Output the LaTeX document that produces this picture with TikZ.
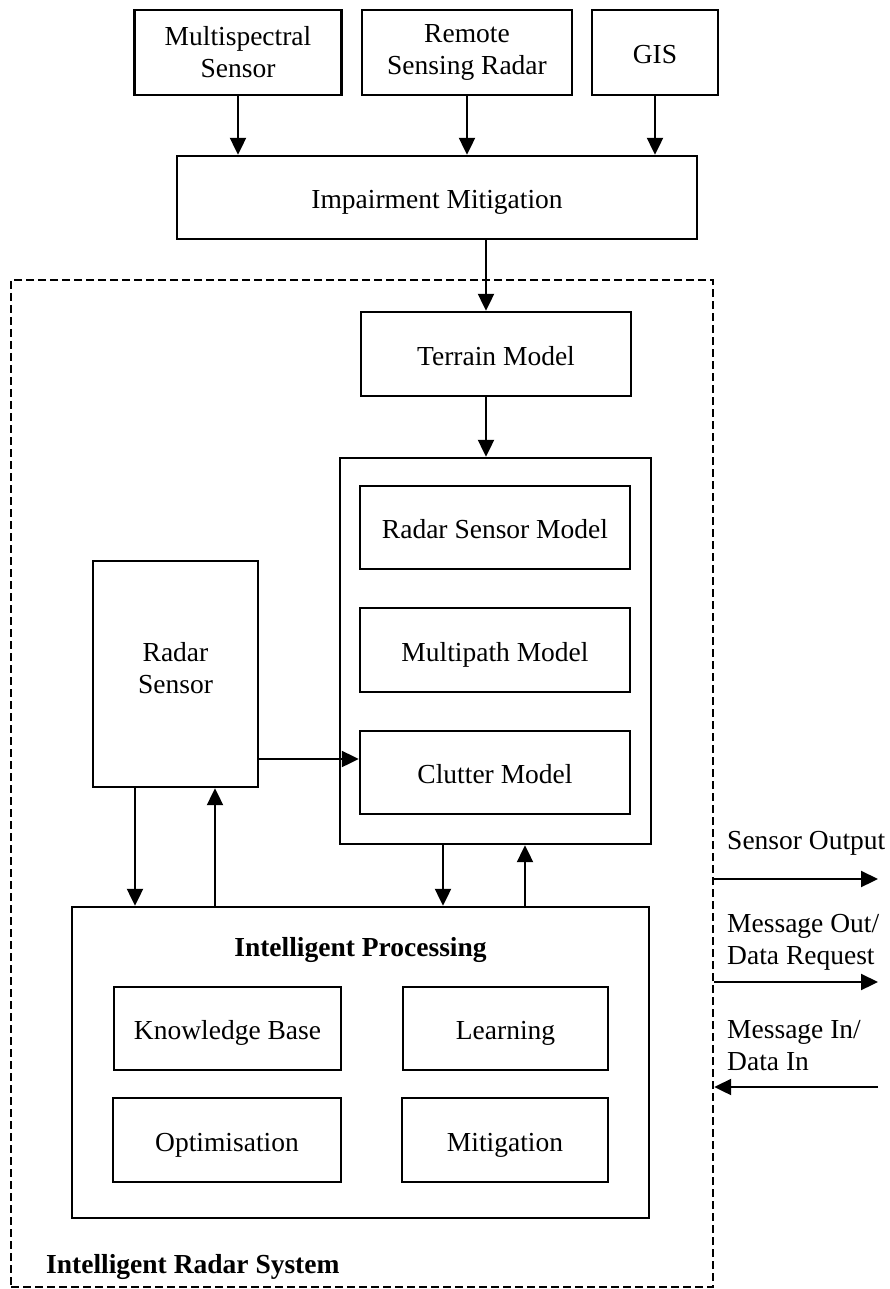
\documentclass[tikz,border=0pt]{standalone}
\usepackage{fontspec}
\setmainfont{Liberation Serif}
\usetikzlibrary{arrows.meta}

\tikzset{
  box/.style={draw, line width=2.4pt, inner sep=0pt, align=center},
  one/.style={text height=24pt, text depth=2pt},
  arr/.style={line width=2.2pt, -{Triangle[length=17pt, width=16pt]}},
  frame/.style={draw, line width=2.4pt, dash pattern=on 8pt off 4pt, inner sep=0pt},
  lbl/.style={inner sep=0pt, align=left, anchor=west},
}

\begin{document}
\begin{tikzpicture}[x=1pt, y=-1pt, font=\fontsize{27.5}{32}\selectfont]
\useasboundingbox[fill=white] (0,0) rectangle (890,1289);

% data sources
\node[box, minimum width=207pt, minimum height=85pt] (ms)  at (238,52.5) {Multispectral\\Sensor};
\node[box, minimum width=210pt, minimum height=85pt] (rs)  at (467,52.5)   {Remote\\Sensing Radar};
\node[box, one, minimum width=126pt, minimum height=85pt] (gis) at (655,52.5)   {GIS};
\node[box, one, minimum width=520pt, minimum height=83pt] (imp) at (437,197.5)  {Impairment Mitigation};

% system boundary
\node[frame, minimum width=702pt, minimum height=1007pt] (sys) at (362,783.5) {};

% models
\node[box, one, minimum width=270pt, minimum height=84pt]  (ter) at (496,354)    {Terrain Model};
\node[box, minimum width=311pt, minimum height=386pt] (mod) at (495.5,651)  {};
\node[box, one, minimum width=270pt, minimum height=83pt]  (rsm) at (495,527.5)  {Radar Sensor Model};
\node[box, one, minimum width=270pt, minimum height=84pt]  (mp)  at (495,650)    {Multipath Model};
\node[box, one, minimum width=270pt, minimum height=83pt]  (cl)  at (495,772.5)  {Clutter Model};
\node[box, minimum width=165pt, minimum height=226pt] (rad) at (175.5,674)  {Radar\\Sensor\\[-20pt]};

% intelligent processing
\node[box, minimum width=577pt, minimum height=311pt] (ip) at (360.5,1062.5) {};
\node[inner sep=0pt, font=\fontsize{27.5}{32}\selectfont\bfseries] (iph) at (360.5,950) {Intelligent Processing};
\node[box, one, minimum width=227pt, minimum height=83pt] (kb)  at (227.5,1028.5) {Knowledge Base};
\node[box, one, minimum width=205pt, minimum height=83pt] (lrn) at (505.5,1028.5) {Learning};
\node[box, one, minimum width=228pt, minimum height=84pt] (opt) at (227,1140)     {Optimisation};
\node[box, one, minimum width=206pt, minimum height=84pt] (mit) at (505,1140)     {Mitigation};

\node[lbl, font=\fontsize{27.5}{32}\selectfont\bfseries] (irs) at (46,1267) {Intelligent Radar System};

% external interface labels
\node[lbl] (so)  at (727,843)  {Sensor Output};
\node[lbl] (mo)  at (727,942)  {Message Out/\\Data Request};
\node[lbl] (mi)  at (727,1046) {Message In/\\Data In};
\coordinate (soE) at (878,879);
\coordinate (moE) at (878,982);
\coordinate (miE) at (878,1087);

% connectors
\draw[arr] (ms.south)  -- (ms.south |- imp.north);
\draw[arr] (rs.south)  -- (rs.south |- imp.north);
\draw[arr] (gis.south) -- (gis.south |- imp.north);
\draw[arr] ([xshift=-10pt]ter.north |- imp.south) -- ([xshift=-10pt]ter.north);
\draw[arr] ([xshift=-10pt]ter.south) -- ([xshift=-10pt]ter.south |- mod.north);
\draw[arr] ([yshift=13.5pt]cl.west -| rad.east) -- ([yshift=13.5pt]cl.west);
\draw[arr] ([xshift=-40.5pt]rad.south) -- ([xshift=-40.5pt]rad.south |- ip.north);
\draw[arr] ([xshift=39.5pt]rad.south |- ip.north) -- ([xshift=39.5pt]rad.south);
\draw[arr] ([xshift=-52.5pt]mod.south) -- ([xshift=-52.5pt]mod.south |- ip.north);
\draw[arr] ([xshift=29.5pt]mod.south |- ip.north) -- ([xshift=29.5pt]mod.south);
\draw[arr] (sys.east |- soE) -- (soE);
\draw[arr] (sys.east |- moE) -- (moE);
\draw[arr] (miE) -- (sys.east |- miE);
\end{tikzpicture}
\end{document}
